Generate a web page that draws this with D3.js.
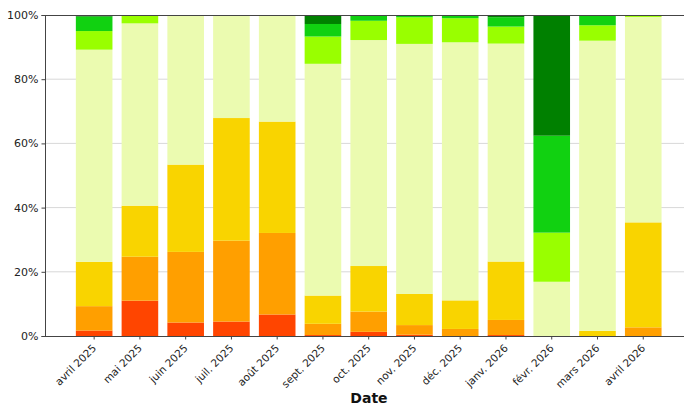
<!DOCTYPE html>
<html><head><meta charset="utf-8">
<script src="https://cdn.jsdelivr.net/npm/d3@7"></script>
<style>body{margin:0;background:#fff}svg{display:block}</style>
</head><body>
<script>
const months = ["avril 2025","mai 2025","juin 2025","juil. 2025","août 2025","sept. 2025","oct. 2025","nov. 2025","déc. 2025","janv. 2026","févr. 2026","mars 2026","avril 2026"];
const seriesKeys = ["s1","s2","s3","s4","s5","s6","s7"];
const seriesColors = ["#ff4500","#ff9f00","#f9d400","#ebfbb0","#99ff00","#11d111","#008000"];
const s1 = [1.7,11.0,4.2,4.5,6.7,0.3,1.3,0.4,0,0.3,0,0,0];
const s2 = [7.6,13.7,22.0,25.2,25.4,3.5,6.3,3.0,2.2,4.7,0,0,2.7];
const s3 = [13.8,15.9,27.2,38.2,34.7,8.8,14.2,9.7,8.9,18.2,0,1.6,32.7];
const s4 = [66.1,56.8,46.6,32.1,33.2,72.2,70.4,77.9,80.4,67.9,16.9,90.4,64.0];
const s5 = [5.8,2.6,0,0,0,8.5,6.0,8.3,7.5,5.3,15.3,4.8,0.6];
const s6 = [4.5,0,0,0,0,3.9,1.8,0.7,1.0,2.9,30.2,2.9,0];
const s7 = [0.5,0,0,0,0,2.8,0,0,0,0.7,37.6,0.3,0];
const yTicks = [0,0.2,0.4,0.6,0.8,1.0];
const xTitle = "Date";

const W = 684, H = 405;
const mLeft = 45, mRight = 684, mTop = 15, mBottom = 336;
const svg = d3.select("body").append("svg").attr("width", W).attr("height", H);

const rows = months.map((m,i)=>{
  const vals = [s1[i],s2[i],s3[i],s4[i],s5[i],s6[i],s7[i]];
  const tot = d3.sum(vals);
  const r = {month:m};
  seriesKeys.forEach((k,j)=> r[k] = vals[j]/tot);
  return r;
});
const stack = d3.stack().keys(seriesKeys)(rows);

const x = d3.scaleBand().domain(months).range([66.7, 670.7]).paddingInner(0.2).paddingOuter(0.2);
const y = d3.scaleLinear().domain([0,1]).range([mBottom, mTop]);

// grid
svg.append("g").selectAll("line").data(yTicks.slice(1,-1)).join("line")
  .attr("x1", mLeft).attr("x2", mRight).attr("y1", d=>y(d)).attr("y2", d=>y(d))
  .attr("stroke", "#d8d8d8").attr("stroke-width", 1);

// bars
svg.append("g").selectAll("g").data(stack).join("g")
  .attr("fill", (d,i)=>seriesColors[i])
  .selectAll("rect").data(d=>d).join("rect")
  .attr("x", d=>x(d.data.month)).attr("width", x.bandwidth())
  .attr("y", d=>y(d[1])).attr("height", d=>Math.max(0, y(d[0])-y(d[1])));

// y axis
const yAxis = svg.append("g").attr("transform", `translate(${mLeft},0)`)
  .call(d3.axisLeft(y).tickValues(yTicks).tickFormat(d3.format(".0%")).tickSize(3.5).tickPadding(3));
yAxis.select(".domain").attr("stroke", "#444");
yAxis.selectAll(".tick line").attr("stroke", "#444");
yAxis.selectAll("text").attr("font-family", "DejaVu Sans, sans-serif").attr("font-size", 11).attr("fill", "#222");

// x axis
const xAxis = svg.append("g").attr("transform", `translate(0,${mBottom})`)
  .call(d3.axisBottom(x).tickSize(3.5).tickSizeOuter(0));
xAxis.select(".domain").attr("d", `M${mLeft},0.5H${mRight}`).attr("stroke", "#444");
xAxis.selectAll(".tick line").attr("stroke", "#444");
xAxis.selectAll("text").attr("font-family", "DejaVu Sans, sans-serif").attr("font-size", 10.5).attr("fill", "#222")
  .attr("text-anchor", "end").attr("transform", "translate(-4,3) rotate(-45)").attr("dy", "0.5em").attr("dx","-0.2em");

// top spine
svg.append("line").attr("x1", mLeft).attr("x2", mRight).attr("y1", mTop+0.5).attr("y2", mTop+0.5).attr("stroke", "#444");

svg.append("text").attr("x", 369).attr("y", 403).attr("text-anchor", "middle")
  .attr("font-family", "DejaVu Sans, sans-serif").attr("font-weight", "bold").attr("font-size", 14).attr("fill", "#111").text(xTitle);
</script>
</body></html>
